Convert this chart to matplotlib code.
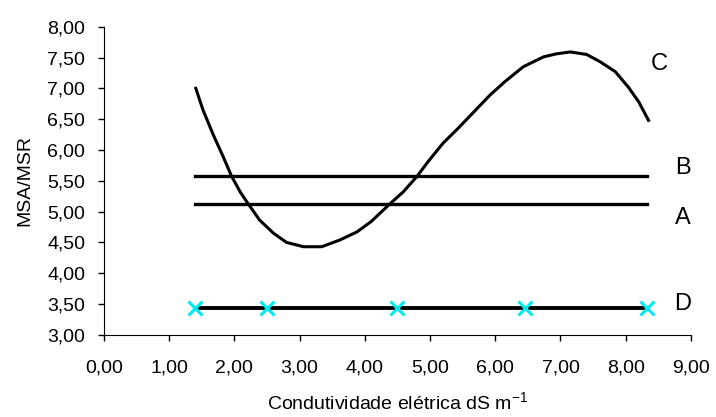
import matplotlib
matplotlib.use('Agg')
import matplotlib.pyplot as plt
from matplotlib.ticker import FuncFormatter, MultipleLocator

plt.rcParams['font.family'] = ['Liberation Sans', 'DejaVu Sans']
plt.rcParams['mathtext.fontset'] = 'custom'
plt.rcParams['mathtext.rm'] = 'Liberation Sans'

# curva C (MSA/MSR em função da condutividade)
ce_c = [1.41, 1.52, 1.68, 1.83, 1.96, 2.09, 2.21, 2.39, 2.60, 2.80, 3.06, 3.34,
        3.62, 3.88, 4.10, 4.39, 4.59, 4.80, 4.97, 5.20, 5.43, 5.72, 5.92, 6.15,
        6.43, 6.74, 6.94, 7.15, 7.40, 7.61, 7.84, 8.04, 8.20, 8.35]
msa_c = [7.00, 6.65, 6.24, 5.89, 5.57, 5.32, 5.13, 4.86, 4.65, 4.50, 4.43, 4.43,
         4.54, 4.67, 4.84, 5.13, 5.32, 5.57, 5.81, 6.11, 6.35, 6.67, 6.89, 7.11,
         7.35, 7.51, 7.56, 7.59, 7.55, 7.43, 7.27, 7.02, 6.78, 6.48]

# retas horizontais A, B e D
ce_lim = [1.40, 8.33]
msa_a = 5.13
msa_b = 5.57
msa_d = 3.43
ce_d = [1.40, 2.50, 4.50, 6.45, 8.33]

fig = plt.figure(figsize=(7.16, 4.17), dpi=100)
ax = fig.add_axes([0.145, 0.197, 0.82, 0.739])

ax.plot(ce_c, msa_c, color='black', lw=2.2)
ax.plot(ce_lim, [msa_b, msa_b], color='black', lw=2.4)
ax.plot(ce_lim, [msa_a, msa_a], color='black', lw=2.4)
ax.plot(ce_lim, [msa_d, msa_d], color='black', lw=2.8)
ax.plot(ce_d, [msa_d] * len(ce_d), ls='none', marker='x', ms=9.5, mew=2.2,
        color='#00e8f0')

# rótulos das curvas
ax.text(8.51, 7.39, 'C', fontsize=17, ha='center', va='center')
ax.text(8.87, 5.71, 'B', fontsize=17, ha='center', va='center')
ax.text(8.87, 4.89, 'A', fontsize=17, ha='center', va='center')
ax.text(8.87, 3.50, 'D', fontsize=17, ha='center', va='center')

ax.set_xlim(0, 9)
ax.set_ylim(3, 8)
ax.xaxis.set_major_locator(MultipleLocator(1))
ax.yaxis.set_major_locator(MultipleLocator(0.5))
fmt = FuncFormatter(lambda v, p: f'{v:.2f}'.replace('.', ','))
ax.xaxis.set_major_formatter(fmt)
ax.yaxis.set_major_formatter(fmt)
ax.tick_params(direction='out', length=4.3, labelsize=14, width=1)
ax.tick_params(axis='x', pad=13.5)
ax.tick_params(axis='y', pad=9)

for s in ['top', 'right']:
    ax.spines[s].set_visible(False)

ax.set_xlabel(r'Condutividade elétrica dS m$^{\mathregular{-1}}$', fontsize=14, labelpad=11)
ax.set_ylabel('MSA/MSR', fontsize=14, labelpad=10)

fig.savefig('out.png', dpi=100)
